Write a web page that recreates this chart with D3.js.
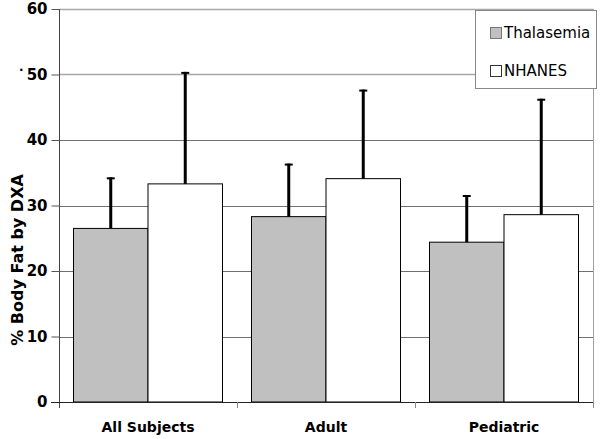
<!DOCTYPE html>
<html>
<head>
<meta charset="utf-8">
<script src="https://cdn.jsdelivr.net/npm/d3@7"></script>
<style>
  body { margin: 0; background: #fff; }
  svg { display: block; }
  .tick text { font-family: "DejaVu Sans", Verdana, sans-serif; font-weight: bold; }
</style>
</head>
<body>
<div id="main"></div>
<script>
// data
var categories = ["All Subjects", "Adult", "Pediatric"];
var seriesNames = ["Thalasemia", "NHANES"];
var thalMeans = [26.5, 28.3, 24.4];
var thalSD = [7.8, 8.1, 7.2];
var nhanesMeans = [33.3, 34.1, 28.6];
var nhanesSD = [17.1, 13.6, 17.7];
var yTicks = [0, 10, 20, 30, 40, 50, 60];

var fills = ["#c0c0c0", "#ffffff"];
var means = [thalMeans, nhanesMeans];
var sds = [thalSD, nhanesSD];

var W = 601, H = 439;
var plotLeft = 59, plotRight = 593, plotTop = 9, plotBottom = 402;

var svg = d3.select('#main').append('svg')
            .attr('width', W)
            .attr('height', H);

var x0 = d3.scaleBand()
           .domain(categories)
           .range([plotLeft, plotRight])
           .padding(0);

var x1 = d3.scaleBand()
           .domain(seriesNames)
           .range([14.5, x0.bandwidth() - 14.5])
           .padding(0);

var y = d3.scaleLinear()
          .domain([0, 60])
          .range([plotBottom, plotTop]);

// gridlines
svg.append('g')
   .selectAll('line')
   .data(yTicks.filter(function(d){ return d > 0; }))
   .enter().append('line')
   .attr('x1', plotLeft)
   .attr('x2', plotRight)
   .attr('y1', function(d){ return Math.round(y(d)) + 0.5; })
   .attr('y2', function(d){ return Math.round(y(d)) + 0.5; })
   .attr('stroke', function(d){ return d >= 50 ? '#a8a8a8' : '#707070'; })
   .attr('stroke-width', function(d){ return d >= 50 ? 1.6 : 1; });

// right border of plot
svg.append('line')
   .attr('x1', plotRight + 0.5).attr('x2', plotRight + 0.5)
   .attr('y1', plotTop).attr('y2', plotBottom + 6)
   .attr('stroke', '#a0a0a0');

// bars
var groups = svg.append('g')
   .selectAll('g')
   .data(categories)
   .enter().append('g')
   .attr('transform', function(d){ return 'translate(' + x0(d) + ',0)'; });

function rows(d, i){
   return seriesNames.map(function(s, j){ return {s: s, j: j, v: means[j][i], sd: sds[j][i]}; });
}

groups.selectAll('rect')
   .data(rows)
   .enter().append('rect')
   .attr('x', function(d){ return x1(d.s); })
   .attr('y', function(d){ return y(d.v); })
   .attr('width', x1.bandwidth())
   .attr('height', function(d){ return y(0) - y(d.v); })
   .attr('fill', function(d){ return fills[d.j]; })
   .attr('stroke', '#000')
   .attr('stroke-width', 1);

// error bars (upper only)
var errs = groups.selectAll('g.err')
   .data(rows)
   .enter().append('g')
   .attr('class', 'err');

errs.append('line')
   .attr('x1', function(d){ return x1(d.s) + x1.bandwidth() / 2; })
   .attr('x2', function(d){ return x1(d.s) + x1.bandwidth() / 2; })
   .attr('y1', function(d){ return y(d.v); })
   .attr('y2', function(d){ return y(d.v + d.sd); })
   .attr('stroke', '#000')
   .attr('stroke-width', 3);

errs.append('line')
   .attr('x1', function(d){ return x1(d.s) + x1.bandwidth() / 2 - 4; })
   .attr('x2', function(d){ return x1(d.s) + x1.bandwidth() / 2 + 4; })
   .attr('y1', function(d){ return y(d.v + d.sd) + 1; })
   .attr('y2', function(d){ return y(d.v + d.sd) + 1; })
   .attr('stroke', '#000')
   .attr('stroke-width', 2);

// y axis
var yAxis = svg.append('g')
   .attr('transform', 'translate(' + (plotLeft + 0.5) + ',0)')
   .call(d3.axisLeft(y).tickValues(yTicks).tickSize(8).tickPadding(4));
yAxis.select('.domain').attr('stroke', '#444').attr('d', 'M0,' + plotTop + 'V' + (plotBottom + 6));
yAxis.selectAll('.tick line').attr('stroke', '#555');
yAxis.selectAll('.tick text').attr('font-size', 15).attr('fill', '#000');

// x axis
var xAxis = svg.append('g')
   .attr('transform', 'translate(0,' + (plotBottom + 0.5) + ')')
   .call(d3.axisBottom(x0).tickSize(0).tickPadding(20));
xAxis.select('.domain').attr('stroke', '#222').attr('d', 'M' + (plotLeft - 8) + ',0H' + plotRight);
xAxis.selectAll('.tick text').attr('font-size', 14).attr('fill', '#000');

// category boundary ticks
svg.append('g')
   .selectAll('line')
   .data(categories)
   .enter().append('line')
   .attr('x1', function(d){ return x0(d) + x0.bandwidth() + 0.5; })
   .attr('x2', function(d){ return x0(d) + x0.bandwidth() + 0.5; })
   .attr('y1', plotBottom)
   .attr('y2', plotBottom + 6)
   .attr('stroke', '#888');

// y axis title
svg.append('text')
   .attr('transform', 'translate(23,' + 260 + ') rotate(-90)')
   .attr('text-anchor', 'middle')
   .attr('font-family', '"DejaVu Sans", Verdana, sans-serif')
   .attr('font-weight', 'bold')
   .attr('font-size', 16)
   .text('% Body Fat by DXA');

svg.append('text')
   .attr('x', 19).attr('y', 71)
   .attr('font-family', '"DejaVu Sans", sans-serif')
   .attr('font-weight', 'bold')
   .attr('font-size', 12)
   .text('.');

// legend
var legend = svg.append('g');
legend.append('rect')
   .attr('x', 475.5).attr('y', 10.5)
   .attr('width', 121).attr('height', 78)
   .attr('fill', '#fff')
   .attr('stroke', '#888');

var items = legend.selectAll('g')
   .data(seriesNames)
   .enter().append('g')
   .attr('transform', function(d, i){ return 'translate(490,' + (27 + i * 38) + ')'; });

items.append('rect')
   .attr('x', 0.5).attr('y', 0.5)
   .attr('width', 11).attr('height', 11)
   .attr('fill', function(d, i){ return fills[i]; })
   .attr('stroke', function(d, i){ return i === 0 ? '#777' : '#333'; });

items.append('text')
   .attr('x', 14).attr('y', 11)
   .attr('font-family', '"DejaVu Sans", sans-serif')
   .attr('font-size', 15)
   .text(function(d){ return d; });
</script>
</body>
</html>
